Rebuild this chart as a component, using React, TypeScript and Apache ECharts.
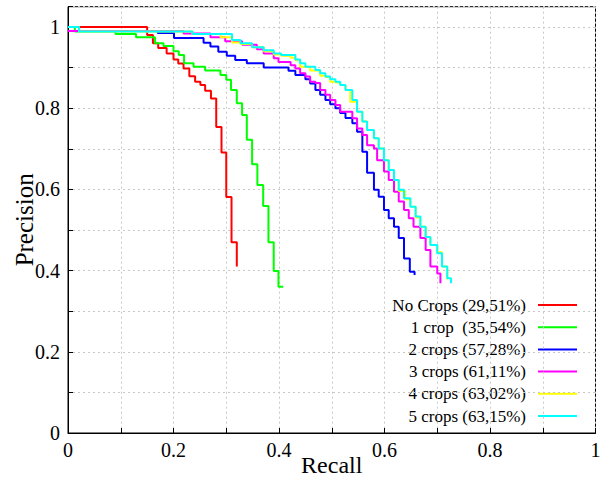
import React, { useEffect, useRef } from 'react';
import * as echarts from 'echarts';

const seriesNames = [
  'No Crops (29,51%)',
  '1 crop  (35,54%)',
  '2 crops (57,28%)',
  '3 crops (61,11%)',
  '4 crops (63,02%)',
  '5 crops (63,15%)',
];
const seriesColors = ['#ff0000', '#00ff00', '#0000ff', '#ff00ff', '#ffff00', '#00ffff'];

const noCropsRecall = [0, 0.150, 0.161, 0.171, 0.187, 0.200, 0.209, 0.219, 0.230, 0.241, 0.251, 0.260, 0.271, 0.281, 0.291, 0.300, 0.310, 0.320];
const noCropsPrecision = [1.000, 0.980, 0.960, 0.948, 0.935, 0.920, 0.910, 0.898, 0.879, 0.865, 0.857, 0.843, 0.824, 0.754, 0.691, 0.581, 0.470, 0.410];

const oneCropRecall = [0, 0.013, 0.090, 0.129, 0.165, 0.181, 0.200, 0.210, 0.220, 0.238, 0.260, 0.289, 0.300, 0.309, 0.320, 0.330, 0.339, 0.349, 0.359, 0.370, 0.380, 0.390, 0.399, 0.408];
const oneCropPrecision = [1.000, 0.989, 0.983, 0.975, 0.960, 0.953, 0.940, 0.931, 0.911, 0.902, 0.893, 0.882, 0.870, 0.845, 0.812, 0.783, 0.722, 0.662, 0.611, 0.559, 0.470, 0.399, 0.360, 0.360];

const twoCropsRecall = [0, 0.170, 0.201, 0.257, 0.270, 0.285, 0.301, 0.317, 0.339, 0.371, 0.418, 0.431, 0.450, 0.459, 0.469, 0.478, 0.488, 0.497, 0.507, 0.516, 0.526, 0.539, 0.548, 0.558, 0.567, 0.580, 0.589, 0.599, 0.608, 0.618, 0.627, 0.637, 0.648, 0.657];
const twoCropsPrecision = [0.990, 0.985, 0.973, 0.961, 0.952, 0.939, 0.929, 0.919, 0.911, 0.900, 0.892, 0.882, 0.871, 0.861, 0.845, 0.833, 0.820, 0.810, 0.800, 0.788, 0.776, 0.763, 0.742, 0.693, 0.641, 0.599, 0.582, 0.549, 0.529, 0.508, 0.480, 0.430, 0.397, 0.389];

const threeCropsRecall = [0, 0.219, 0.270, 0.298, 0.330, 0.358, 0.371, 0.390, 0.399, 0.422, 0.431, 0.440, 0.450, 0.459, 0.469, 0.478, 0.488, 0.497, 0.507, 0.516, 0.539, 0.548, 0.558, 0.567, 0.580, 0.586, 0.599, 0.608, 0.618, 0.627, 0.637, 0.646, 0.655, 0.668, 0.678, 0.687, 0.700, 0.706];
const threeCropsPrecision = [0.990, 0.984, 0.975, 0.965, 0.956, 0.945, 0.935, 0.923, 0.914, 0.906, 0.898, 0.886, 0.878, 0.865, 0.862, 0.845, 0.833, 0.820, 0.808, 0.791, 0.775, 0.750, 0.734, 0.709, 0.701, 0.672, 0.644, 0.623, 0.594, 0.570, 0.549, 0.529, 0.508, 0.480, 0.451, 0.410, 0.393, 0.369];

const fourCropsRecall = [0, 0.021, 0.236, 0.289, 0.311, 0.327, 0.349, 0.371, 0.390, 0.404, 0.422, 0.431, 0.440, 0.459, 0.469, 0.478, 0.488, 0.497, 0.507, 0.516, 0.526, 0.535, 0.548, 0.558, 0.567, 0.580, 0.589, 0.599, 0.608, 0.618, 0.627, 0.639, 0.649, 0.659, 0.668, 0.678, 0.687, 0.700, 0.709, 0.719];
const fourCropsPrecision = [1.000, 0.989, 0.983, 0.975, 0.962, 0.958, 0.950, 0.940, 0.932, 0.929, 0.924, 0.918, 0.902, 0.893, 0.892, 0.880, 0.877, 0.865, 0.863, 0.857, 0.845, 0.816, 0.791, 0.767, 0.746, 0.726, 0.701, 0.672, 0.648, 0.623, 0.596, 0.576, 0.557, 0.531, 0.508, 0.483, 0.463, 0.445, 0.410, 0.378];

const fiveCropsRecall = [0, 0.021, 0.236, 0.311, 0.327, 0.349, 0.371, 0.390, 0.404, 0.431, 0.440, 0.450, 0.469, 0.478, 0.488, 0.497, 0.507, 0.516, 0.526, 0.539, 0.548, 0.558, 0.567, 0.580, 0.589, 0.599, 0.608, 0.618, 0.627, 0.637, 0.649, 0.659, 0.668, 0.678, 0.687, 0.700, 0.709, 0.719, 0.726];
const fiveCropsPrecision = [1.000, 0.989, 0.983, 0.968, 0.960, 0.950, 0.943, 0.935, 0.931, 0.920, 0.911, 0.902, 0.894, 0.886, 0.878, 0.871, 0.865, 0.857, 0.845, 0.820, 0.791, 0.767, 0.746, 0.726, 0.701, 0.672, 0.648, 0.623, 0.599, 0.578, 0.557, 0.533, 0.508, 0.483, 0.463, 0.443, 0.410, 0.381, 0.369];

const recallLists = [noCropsRecall, oneCropRecall, twoCropsRecall, threeCropsRecall, fourCropsRecall, fiveCropsRecall];
const precisionLists = [noCropsPrecision, oneCropPrecision, twoCropsPrecision, threeCropsPrecision, fourCropsPrecision, fiveCropsPrecision];

const xTickLabels: Record<number, string> = { 0: '0', 2: '0.2', 4: '0.4', 6: '0.6', 8: '0.8', 10: '1' };
const yTickLabels: Record<number, string> = { 0: '0', 2: '0.2', 4: '0.4', 6: '0.6', 8: '0.8', 10: '1' };

const FONT = '"Liberation Serif", "DejaVu Serif", serif';

function pairs(xs: number[], ys: number[]) {
  const n = Math.min(xs.length, ys.length);
  const out: number[][] = [];
  for (let i = 0; i < n; i++) out.push([xs[i], ys[i]]);
  return out;
}

export default function App() {
  const ref = useRef<HTMLDivElement>(null);
  useEffect(() => {
    if (!ref.current) return;
    const chart = echarts.init(ref.current, null, { renderer: 'svg' });

    const legendGraphics: any[] = [];
    seriesNames.forEach((name, i) => {
      const y = 305 + 22.2 * i;
      legendGraphics.push({
        type: 'text',
        x: 526,
        y,
        style: {
          text: name,
          fill: '#000',
          font: `17px ${FONT}`,
          textAlign: 'right',
          textVerticalAlign: 'middle',
          align: 'right',
          verticalAlign: 'middle',
        },
      });
      legendGraphics.push({
        type: 'line',
        shape: { x1: 538, y1: y, x2: 577, y2: y },
        style: { stroke: seriesColors[i], lineWidth: 2 },
      });
    });

    chart.setOption({
      animation: false,
      backgroundColor: '#ffffff',
      grid: {
        left: 68,
        top: 6.7,
        right: 7.5,
        bottom: 44,
        containLabel: false,
        outerBoundsMode: 'none',
        show: true,
        borderColor: '#000',
        borderWidth: 1,
        backgroundColor: 'transparent',
      },
      xAxis: {
        type: 'value',
        min: 0,
        max: 1,
        interval: 0.1,
        name: 'Recall',
        nameLocation: 'middle',
        nameGap: 20,
        nameMoveOverlap: false,
        nameTextStyle: { fontFamily: FONT, fontSize: 24, color: '#000', lineHeight: 24 },
        axisLine: { show: true, lineStyle: { color: '#000', width: 1 } },
        axisTick: { show: true, inside: true, length: 5, lineStyle: { color: '#000' } },
        axisLabel: {
          margin: 7,
          fontFamily: FONT,
          fontSize: 20,
          color: '#000',
          formatter: (v: number) => {
            const k = Math.round(v * 10);
            return xTickLabels[k] ?? '';
          },
        },
        splitLine: { show: true, lineStyle: { color: '#c8c8c8', type: [2, 3], width: 1 } },
      },
      yAxis: {
        type: 'value',
        min: 0,
        max: 1.05,
        interval: 0.1,
        name: 'Precision',
        nameLocation: 'middle',
        nameGap: 31,
        nameMoveOverlap: false,
        nameTextStyle: { fontFamily: FONT, fontSize: 25, color: '#000' },
        axisLine: { show: true, lineStyle: { color: '#000', width: 1 } },
        axisTick: { show: true, inside: true, length: 5, lineStyle: { color: '#000' } },
        axisLabel: {
          margin: 8,
          fontFamily: FONT,
          fontSize: 20,
          color: '#000',
          formatter: (v: number) => {
            if (v > 1.001) return '';
            const k = Math.round(v * 10);
            return yTickLabels[k] ?? '';
          },
        },
        splitLine: { show: true, lineStyle: { color: '#c8c8c8', type: [2, 3], width: 1 } },
      },
      series: seriesNames.map((name, i) => ({
        name,
        type: 'line',
        step: 'end',
        symbol: 'none',
        showSymbol: false,
        data: pairs(recallLists[i], precisionLists[i]),
        lineStyle: { color: seriesColors[i], width: 2 },
        itemStyle: { color: seriesColors[i] },
        z: 2 + i,
      })),
      graphic: legendGraphics,
    });
    return () => chart.dispose();
  }, []);
  return (
    <div
      ref={ref}
      style={{ position: 'fixed', left: 0, top: 0, width: 603, height: 477, background: '#fff' }}
    />
  );
}
